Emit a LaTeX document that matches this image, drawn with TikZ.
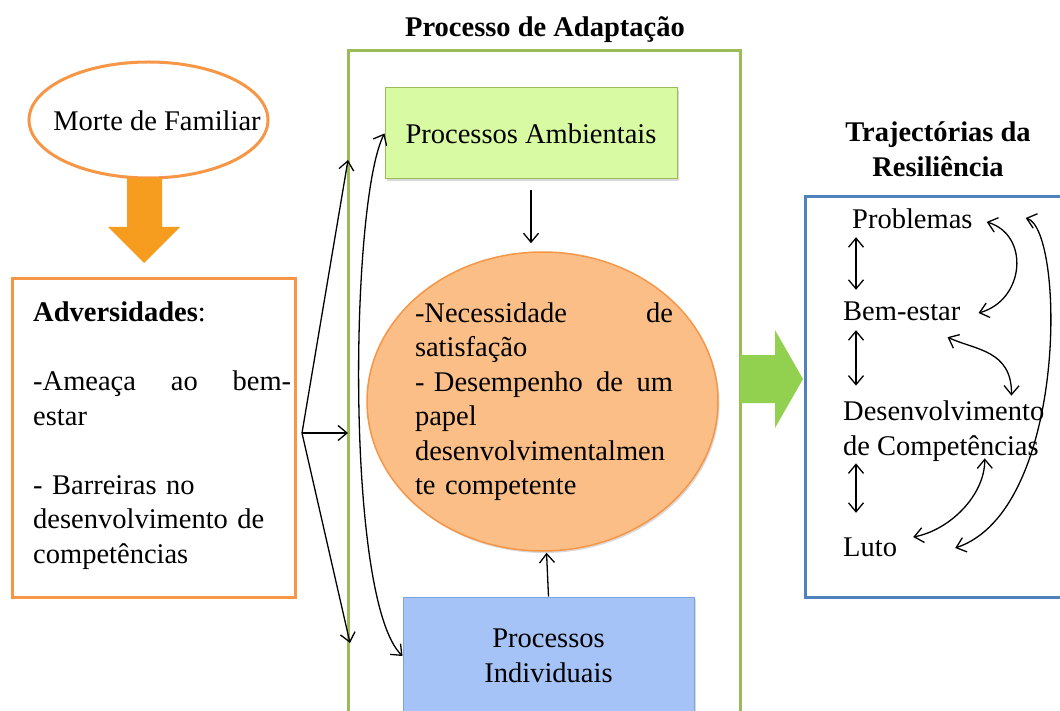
\documentclass[tikz,border=0pt]{standalone}
\usepackage{fontspec}
\setmainfont{Liberation Serif}
\usetikzlibrary{shapes.geometric,arrows.meta,shadows}

\definecolor{orangeline}{HTML}{F79646}
\definecolor{orangeblock}{HTML}{F69D1F}
\definecolor{greenline}{HTML}{9BBB59}
\definecolor{greenblock}{HTML}{92D050}
\definecolor{ambfill}{HTML}{D7FAA2}
\definecolor{necfill}{HTML}{FBBE87}
\definecolor{indfill}{HTML}{A5C3F6}
\definecolor{indline}{HTML}{7BA3DF}
\definecolor{blueline}{HTML}{4F81BD}

\newcommand{\bigfont}{\fontsize{28.5}{34.5}\selectfont}

\tikzset{
  softshadow/.style={drop shadow={shadow xshift=1.5pt, shadow yshift=-2pt, opacity=0.25, fill=black!60}},
  procbox/.style={rectangle, line width=1pt, minimum width=292pt, align=center, softshadow},
  link/.style={-{Straight Barb[length=9pt,width=15pt]}, line width=1.3pt},
  dbllink/.style={{Straight Barb[length=9pt,width=15pt]}-{Straight Barb[length=9pt,width=15pt]}, line width=1.3pt},
  trajlbl/.style={anchor=west, inner sep=2pt, text height=20pt, text depth=6pt},
  titlelbl/.style={font=\bigfont\bfseries, align=center},
}

\begin{document}
\begin{tikzpicture}[x=1pt, y=-1pt, font=\bigfont]

    \useasboundingbox (0,0) rectangle (1060,711);

    % left column
    \node[ellipse, draw=orangeline, line width=3pt, minimum width=239pt, minimum height=116pt, inner sep=0pt] (morte) at (148.5,120) {};
    \node (mortetxt) at (157,121) {Morte de Familiar};

    \fill[orangeblock] (127,178) -- (162,178) -- (162,227) -- (180,227) -- (144,263) -- (108,227) -- (127,227) -- cycle;

    \node[rectangle, draw=orangeline, line width=3pt, minimum width=283pt, minimum height=318pt] (adv) at (153.5,438) {};
    \node[anchor=north west, text width=258pt, align=left, inner sep=0pt] (advtxt) at (33,302)
      {\textbf{Adversidades}:\\[34.5pt]-Ameaça\hfill ao\hfill bem-\\estar\\[34.5pt]- Barreiras no\\desenvolvimento de\\competências};

    % middle column
    \node[rectangle, draw=greenline, line width=3pt, minimum width=392pt, minimum height=680pt] (frame) at (544,391) {};
    \node[titlelbl] (adtitle) at (545,30) {Processo de Adaptação};

    \node[procbox, draw=greenline, fill=ambfill, minimum height=91pt] (amb) at (531,133.5) {Processos Ambientais};

    \node[ellipse, draw=orangeline, fill=necfill, line width=1.5pt, minimum width=351pt, minimum height=299pt, softshadow] (nec) at (542.5,401.5) {};
    \node[text width=258pt, align=left, inner sep=0pt] (nectxt) at (544,401.5)
      {-Necessidade\hfill de\\satisfação\\- Desempenho\hfill de\hfill um\\papel\\desenvolvimentalmen\\te competente};

    \node[procbox, draw=indline, fill=indfill, minimum height=118pt, minimum width=291pt] (ind) at (548.5,656) {Processos\\Individuais};

    \draw[link, shorten <=11pt, shorten >=8pt] (amb.south) -- (amb.south |- nec.north);
    \draw[link, shorten >=1pt] (ind.north) -- ([xshift=4pt]nec.south);

    \coordinate (split) at (302,433);
    \coordinate (intop) at (348,160);
    \coordinate (inmid) at (348,433);
    \coordinate (inbot) at (350,643);
    \draw[link] (split) -- (intop);
    \draw[link] (split) -- (inmid);
    \draw[link] (split) -- (inbot);

    \draw[dbllink] (amb.west) .. controls (350,200) and (345,600) .. (ind.west);

    \fill[greenblock] (740,355) -- (775,355) -- (775,330) -- (803,379) -- (775,428) -- (775,403) -- (740,403) -- cycle;

    % right column
    \node[titlelbl] (trajtitle) at (938,149) {Trajectórias da\\Resiliência};
    \node[rectangle, draw=blueline, line width=3pt, minimum width=272pt, minimum height=400pt] (trajbox) at (941,397) {};

    \node[trajlbl] (prob) at (850,222) {Problemas};
    \node[trajlbl] (bem) at (841,313) {Bem-estar};
    \node[anchor=west, inner sep=2pt, align=left] (desenv) at (841,431) {Desenvolvimento\\de Competências};
    \node[trajlbl] (luto) at (841,549) {Luto};

    \coordinate (vx) at (856,0);
    \draw[dbllink, shorten >=8pt] (vx |- prob.south) -- (vx |- bem.north);
    \draw[dbllink, shorten <=2pt, shorten >=13pt] (vx |- bem.south) -- (vx |- desenv.north);
    \draw[dbllink, shorten >=21pt] (vx |- desenv.south) -- (vx |- luto.north);

    \draw[dbllink] ([xshift=12pt]prob.east) .. controls (1030,235) and (1025,300) .. ([xshift=16pt]bem.east);
    \draw[dbllink] ([xshift=-15pt, yshift=-9pt]bem.south east) .. controls (975,350) and (1012,350) .. ([xshift=-35pt, yshift=3pt]desenv.north east);
    \draw[dbllink] ([xshift=41pt, yshift=5pt]desenv.south) .. controls (985,495) and (950,530) .. ([xshift=14pt, yshift=12pt]luto.east);
    \draw[dbllink] ([xshift=51pt, yshift=4pt]prob.east) .. controls (1065,230) and (1068,510) .. ([xshift=56pt, yshift=1pt]luto.east);

  \end{tikzpicture}
\end{document}
